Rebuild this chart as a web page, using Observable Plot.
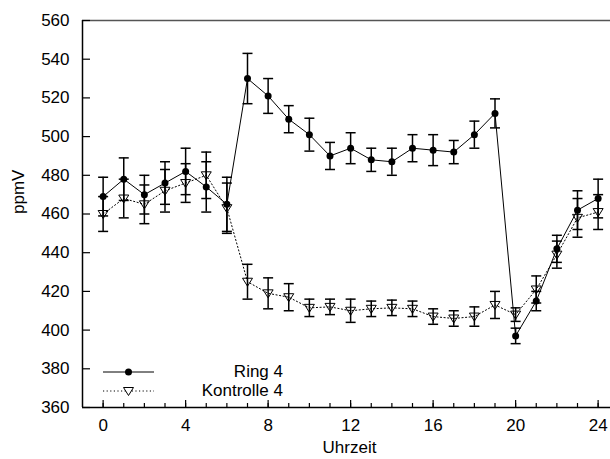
<!DOCTYPE html>
<html>
<head>
<meta charset="utf-8">
<script src="https://cdn.jsdelivr.net/npm/d3@7"></script>
<script src="https://cdn.jsdelivr.net/npm/@observablehq/plot@0.6"></script>
<style>
  html, body { margin: 0; padding: 0; background: white; }
  #chart { position: relative; width: 610px; height: 459px; }
</style>
</head>
<body>
<div id="chart"></div>
<script>
// ---- data ----
const hours = [0,1,2,3,4,5,6,7,8,9,10,11,12,13,14,15,16,17,18,19,20,21,22,23,24];
const ringValues = [469,478,470,476,482,474,465,530,521,509,501,490,494,488,487,494,493,492,501,512,397,415,442,462,468];
const ringErrors = [10,11,10,11,12,13,14,13,9,7,8.5,7,8,6,7,7,8,6,7,7.5,4,5,7,10,10];
const kontrolleValues = [460,468,465,472,476,480,463,425,419,417,411.5,412,410,411,411.5,411,407,406,407,413,408,421,439,458,461];
const kontrolleErrors = [9,10,10,11,10,12,13,9,8,7,4.5,4,6,4,4,4,4,4,5,7,3.5,7,7,10,9];
const seriesNames = ["Ring 4", "Kontrolle 4"];
const xMajorTicks = [0,4,8,12,16,20,24];
const xMinorTicks = hours;
const yTicks = [360,380,400,420,440,460,480,500,520,540,560];
const xLabel = "Uhrzeit";
const yLabel = "ppmV";

// ---- build tables ----
const ring = hours.map((t, i) => ({t, v: ringValues[i], e: ringErrors[i]}));
const kontrolle = hours.map((t, i) => ({t, v: kontrolleValues[i], e: kontrolleErrors[i]}));
const all = ring.concat(kontrolle);
const caps = all.flatMap(d => [{t: d.t, v: d.v - d.e}, {t: d.t, v: d.v + d.e}]);

const capSymbol = { draw(ctx) { ctx.moveTo(-5, 0); ctx.lineTo(5, 0); } };
const triDown = { draw(ctx) { ctx.moveTo(-5, -3.5); ctx.lineTo(5, -3.5); ctx.lineTo(0, 4.5); ctx.closePath(); } };

const xDomain = [-1, 24.6];
const yDomain = [360, 560];
const FONT = "'Liberation Sans', Arial, sans-serif";

const svg = Plot.plot({
  width: 610,
  height: 459,
  marginLeft: 82,
  marginRight: 0,
  marginTop: 20,
  marginBottom: 52,
  style: {fontFamily: FONT, fontSize: "17px", color: "black", background: "white"},
  x: {domain: xDomain},
  y: {domain: yDomain},
  marks: [
    Plot.ruleY([yDomain[1]], {stroke: "#555", strokeWidth: 1.5}),
    Plot.ruleX([xDomain[0]], {stroke: "black", strokeWidth: 1.5}),
    Plot.ruleY([yDomain[0]], {stroke: "black", strokeWidth: 1.5}),
    Plot.axisX({ticks: xMajorTicks, tickSize: 0, tickPadding: 11, label: null, fontSize: 17}),
    Plot.axisX({ticks: xMajorTicks, tickSize: -7, text: null, label: null, strokeWidth: 1.2}),
    Plot.axisX({ticks: xMinorTicks, tickSize: -4, text: null, label: null, strokeWidth: 1.2}),
    Plot.axisY({ticks: yTicks, tickSize: 0, tickPadding: 13, label: null, fontSize: 17}),
    Plot.axisY({ticks: yTicks, tickSize: -8, text: null, label: null, strokeWidth: 1.2}),
    // axis titles
    Plot.text([xLabel], {text: d => d, frameAnchor: "bottom", dx: 3, dy: 45, fontSize: 17, fill: "black"}),
    Plot.text([yLabel], {text: d => d, frameAnchor: "left", rotate: -90, dx: -64, fontSize: 17, fill: "black"}),
    // error bars
    Plot.ruleX(all, {x: "t", y1: d => d.v - d.e, y2: d => d.v + d.e, stroke: "black", strokeWidth: 1.5}),
    Plot.dot(caps, {x: "t", y: "v", symbol: capSymbol, stroke: "black", fill: "none", strokeWidth: 1.5}),
    // lines
    Plot.line(ring, {x: "t", y: "v", stroke: "black", strokeWidth: 1}),
    Plot.line(kontrolle, {x: "t", y: "v", stroke: "black", strokeWidth: 1, strokeDasharray: "1.2,2.4"}),
    // markers
    Plot.dot(ring, {x: "t", y: "v", r: 3.5, fill: "black", stroke: "none"}),
    Plot.dot(kontrolle, {x: "t", y: "v", symbol: triDown, stroke: "black", fill: "none", strokeWidth: 1})
  ]
});

// ---- legend (inside plot, lower left) ----
const g = d3.select(svg).append("g").attr("font-family", FONT).attr("font-size", 17);
const legendRows = [
  {name: seriesNames[0], y: 372, ty: 377, dash: null, marker: "circle"},
  {name: seriesNames[1], y: 391, ty: 396, dash: "1.2,2.4", marker: "tri"}
];
legendRows.forEach(r => {
  g.append("line").attr("x1", 103).attr("x2", 154).attr("y1", r.y).attr("y2", r.y)
    .attr("stroke", "black").attr("stroke-width", 1).attr("stroke-dasharray", r.dash);
  if (r.marker === "circle") {
    g.append("circle").attr("cx", 128.5).attr("cy", r.y).attr("r", 3.5).attr("fill", "black");
  } else {
    g.append("path")
      .attr("d", `M${128.5-5},${r.y-3.5}L${128.5+5},${r.y-3.5}L${128.5},${r.y+4.5}Z`)
      .attr("fill", "white").attr("stroke", "black");
  }
  g.append("text").attr("x", 283).attr("y", r.ty).attr("text-anchor", "end").attr("fill", "black").text(r.name);
});

document.getElementById("chart").appendChild(svg);
</script>
</body>
</html>
